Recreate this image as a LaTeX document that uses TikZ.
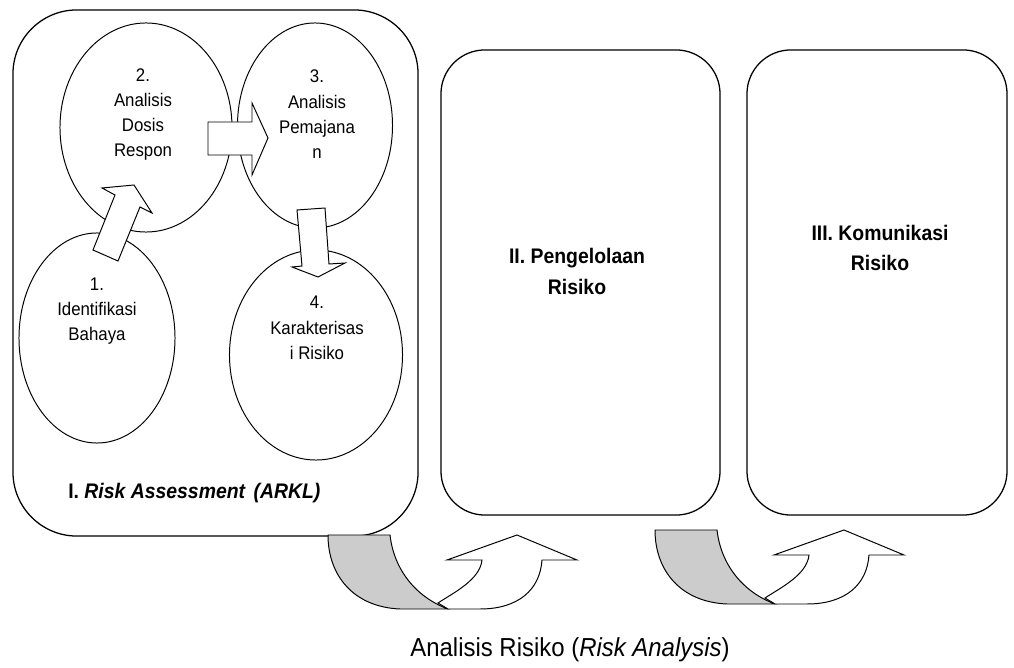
\documentclass[tikz,border=0pt]{standalone}
\usepackage{fontspec}
\setmainfont{Liberation Sans}[FakeStretch=0.92]
\usetikzlibrary{shapes.geometric,positioning}

\begin{document}
\begin{tikzpicture}[x=0.025cm,y=-0.025cm]
\tikzset{
  stagebox/.style={draw=black,line width=0.9pt,fill=white,inner sep=0pt},
  stepell/.style={ellipse,draw=black,line width=0.7pt,inner sep=0pt},
  steptext/.style={align=center,inner sep=0pt,font=\fontsize{13}{18}\selectfont},
  stagelabel/.style={align=center,inner sep=0pt,font=\bfseries\fontsize{15}{22}\selectfont},
  blockarrow/.style={draw=black,fill=white,line width=0.7pt,line join=miter},
  uturn/.pic={
    \draw[blockarrow,fill=black!20] (0,0) -- (62,0) .. controls (66,35) and (88,62) .. (120,74) -- (72,74) .. controls (25,72) and (0,40) .. (0,0) -- cycle;
    \draw[blockarrow] (120,74) -- (110,68) .. controls (125,58) and (152,45) .. (154,25) -- (119,25) -- (189,0) -- (249,25) -- (214,25) .. controls (212,55) and (190,74) .. (152,74) -- cycle;
  }
}
\useasboundingbox (0,0) rectangle (1014,668);
\node[stagebox,rounded corners=1.6cm,minimum width=10.125cm,minimum height=13.15cm] (n_box1) at (215.5,273) {};
\node[stagebox,rounded corners=1.1cm,minimum width=6.975cm,minimum height=11.625cm] (n_box2) at (580.5,282.5) {};
\node[stagebox,rounded corners=1.1cm,minimum width=6.5cm,minimum height=11.625cm] (n_box3) at (877,282.5) {};
\node[stepell,minimum width=3.9cm,minimum height=5.25cm] (n_ell1) at (97,338) {};
\node[stepell,minimum width=4.3cm,minimum height=5.225cm] (n_ell2) at (146,127.5) {};
\node[stepell,minimum width=3.875cm,minimum height=5.125cm] (n_ell3) at (315,125.5) {};
\node[stepell,minimum width=4.325cm,minimum height=5.25cm] (n_ell4) at (316,355) {};
\draw[blockarrow] (93,250) -- (115,195) -- (102,188) -- (134,185) -- (152,213) -- (140,207) -- (118,261) -- cycle;
\draw[blockarrow] (208,122) -- (252,122) -- (252,103) -- (268,138) -- (252,175) -- (252,155) -- (208,155) -- cycle;
\draw[blockarrow] (297,210) -- (325,208) -- (329,264) -- (345,263) -- (318,277) -- (292,267) -- (302,266) -- cycle;
\node[steptext] (n_txt1) at (97,311) {1.\\Identifikasi\\Bahaya};
\node[steptext] (n_txt2) at (143,114.5) {2.\\Analisis\\Dosis\\Respon};
\node[steptext] (n_txt3) at (317,114.5) {3.\\Analisis\\Pemajana\\n};
\node[steptext] (n_txt4) at (317,328) {4.\\Karakterisas\\i Risiko};
\node[stagelabel,anchor=west] (n_lab1) at (68,493) {I. \textit{Risk Assessment\hspace{0.4em}(ARKL)}};
\node[stagelabel] (n_lab2) at (577,271) {II. Pengelolaan\\Risiko};
\node[stagelabel,font=\bfseries\fontsize{15}{21}\selectfont] (n_lab3) at (880,248) {III. Komunikasi\\Risiko};
\pic at (328,535) {uturn};
\pic at (655,530) {uturn};
\node[inner sep=0pt,font=\fontsize{18.5}{20}\selectfont] (n_caption) at (570,650) {Analisis Risiko (\textit{Risk Analysis})};
\end{tikzpicture}
\end{document}
